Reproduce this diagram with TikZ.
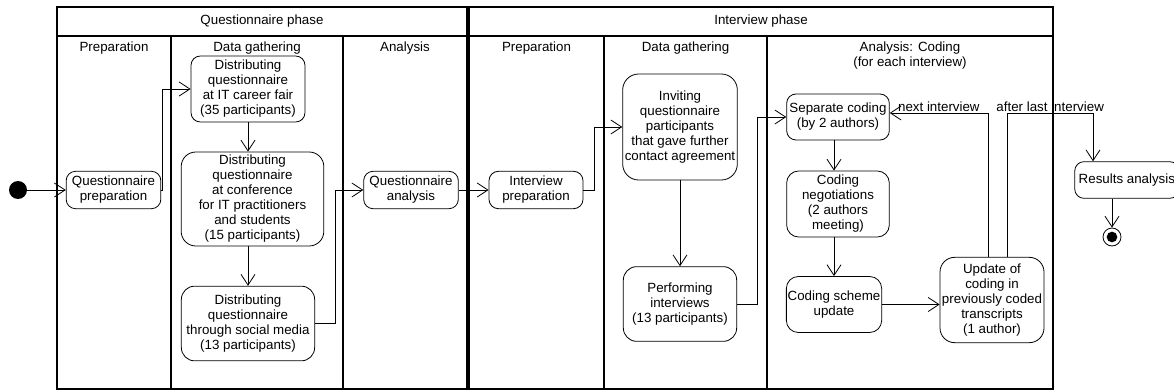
\documentclass[tikz,border=0pt]{standalone}
\usepackage{fontspec}
\setmainfont{Liberation Sans}
\usetikzlibrary{arrows.meta}
\tikzset{
    activity/.style = {
        shape=rectangle,
        rounded corners=7pt,
        draw,
        align=center,
        inner sep=1pt,
        line width=0.6pt},
    initial/.style = {
        shape=circle,
        fill=black,
        minimum size=13.5pt,
        inner sep=0pt},
    final/.style = {
        shape=circle,
        draw,
        line width=0.6pt,
        minimum size=13.5pt,
        inner sep=0pt,
        path picture={\fill[black] (path picture bounding box.center) circle (4pt);}},
    lane/.style = {
        draw,
        line width=0.9pt},
    lanetitle/.style = {
        align=center}
}

\begin{document}
\begin{tikzpicture}[
    x                   = 0.75pt,
    y                   = -0.75pt,
    flow/.style         = {draw, line width=0.6pt, -{Straight Barb[length=8pt,width=10.5pt]}},
    every node/.style   = {font=\fontsize{10}{11.25}\selectfont}
]

\useasboundingbox (0,0) rectangle (1174,392);

% swimlanes
\draw[lane] (57,7) rectangle (467,389);
\draw[lane] (469,7) rectangle (1053,389);
\draw[lane] (57,36) -- (467,36);
\draw[lane] (469,36) -- (1053,36);
\foreach \x in {171,343,604,767}
    \draw[lane] (\x,36) -- (\x,389);

\node (qphase) at (262,21) {Questionnaire phase};
\node (iphase) at (761,21) {Interview phase};
\node [lanetitle] (qprepT) at (114,48) {Preparation};
\node [lanetitle] (qdataT) at (257,48) {Data gathering};
\node [lanetitle] (qanalT) at (405,48) {Analysis};
\node [lanetitle] (iprepT) at (536.5,48) {Preparation};
\node [lanetitle] (idataT) at (685.5,48) {Data gathering};
\node [lanetitle] (ianalT) at (910,56) {Analysis: Coding\\(for each interview)};

% activities
\node [initial] (start) at (18,190) {};
\node [activity, minimum width=71pt, minimum height=28pt] (qprep) at (113.5,190) {Questionnaire\\preparation};
\node [activity, minimum width=85.5pt, minimum height=49.5pt] (cfair) at (248,89) {Distributing\\questionnaire\\at IT career fair\\(35 participants)};
\node [activity, minimum width=107pt, minimum height=70.5pt, rounded corners=11pt] (conf) at (252.5,199) {Distributing\\questionnaire\\at conference\\for IT practitioners\\and students\\(15 participants)};
\node [activity, minimum width=100pt, minimum height=56pt, rounded corners=10pt] (social) at (248,323.5) {Distributing\\questionnaire\\through social media\\(13 participants)};
\node [activity, minimum width=71pt, minimum height=28pt] (qanal) at (411,190) {Questionnaire\\analysis};
\node [activity, minimum width=70.5pt, minimum height=28pt] (iprep) at (536,190) {Interview\\preparation};
\node [activity, minimum width=86pt, minimum height=79.5pt, rounded corners=12pt] (invite) at (680,127) {Inviting\\questionnaire\\participants\\that gave further\\contact agreement};
\node [activity, minimum width=85pt, minimum height=56pt, rounded corners=10pt] (perform) at (680,304) {Performing\\interviews\\(13 participants)};
\node [activity, minimum width=77pt, minimum height=34.5pt] (sepcod) at (838,117) {Separate coding\\(by 2 authors)};
\node [activity, minimum width=77pt, minimum height=49.5pt, rounded corners=9pt] (negot) at (838,204) {Coding\\negotiations\\(2 authors\\meeting)};
\node [activity, minimum width=70.5pt, minimum height=42pt, rounded corners=9pt] (scheme) at (834,304.5) {Coding scheme\\update};
\node [activity, minimum width=78pt, minimum height=64pt, rounded corners=11pt] (update) at (992,300) {Update of\\coding in\\previously coded\\transcripts\\(1 author)};
\node [activity, anchor=west, minimum height=27.5pt, inner sep=3pt] (results) at (1074.3,180) {Results analysis};
\node [final] (end) at (1112,237) {};

% flows
\draw[flow] (start) -- (qprep);
\draw[flow] (qprep.east) -- ++(1.3,0) |- (cfair.west);
\draw[flow] (cfair.south) -- (cfair.south |- conf.north);
\draw[flow] (social.north |- conf.south) -- (social.north);
\draw[flow] (social.east) -- ++(20,0) |- (qanal.west);
\draw[flow] (qanal) -- (iprep);
\draw[flow] (iprep.east) -- ++(11,0) |- (invite.west);
\draw[flow] (invite) -- (perform);
\draw[flow] (perform.east) -- ++(20.5,0) |- (sepcod.west);
\draw[flow] (scheme.north |- sepcod.south) -- (scheme.north |- negot.north);
\draw[flow] (scheme.north |- negot.south) -- (scheme.north);
\draw[flow] (scheme.east) -- (scheme.east -| update.west);
\coordinate (loop) at (1093,113);
\draw[flow] ([xshift=-3pt]update.north) |- (sepcod.east |- loop)
    node[pos=0.75, above, inner sep=1pt] {next interview};
\draw[flow] ([xshift=11.5pt]update.north) |- (loop)
    node[pos=0.75, above, inner sep=1pt] {after last interview} -- (results.north -| loop);
\draw[flow] (results.south -| end) -- (end.north);

\end{tikzpicture}
\end{document}
